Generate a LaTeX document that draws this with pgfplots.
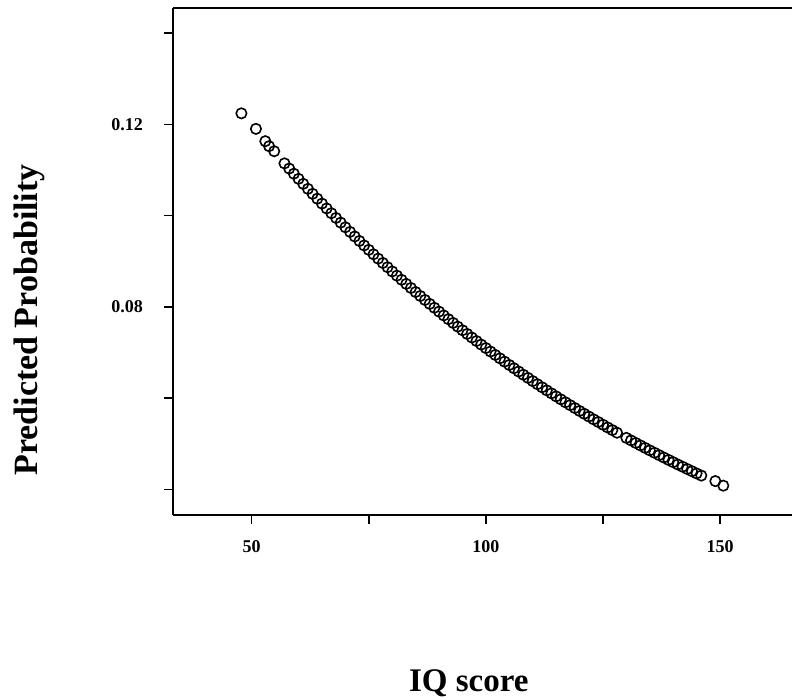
\documentclass[border=0pt]{standalone}
\usepackage{fontspec}
\setmainfont{Liberation Serif}
\usepackage{pgfplots}
\pgfplotsset{compat=1.18}
\usepackage{pgfplotstable}
\pgfplotstableread{
iq p
47.8 0.1224
50.9 0.1190
52.9 0.1163
53.7 0.1152
54.8 0.1141
57 0.11143
58 0.11030
59 0.10917
60 0.10805
61 0.10695
62 0.10585
63 0.10476
64 0.10369
65 0.10262
66 0.10156
67 0.10051
68 0.09948
69 0.09845
70 0.09743
71 0.09642
72 0.09542
73 0.09443
74 0.09345
75 0.09248
76 0.09151
77 0.09056
78 0.08961
79 0.08868
80 0.08775
81 0.08683
82 0.08592
83 0.08502
84 0.08413
85 0.08324
86 0.08237
87 0.08150
88 0.08064
89 0.07979
90 0.07895
91 0.07811
92 0.07729
93 0.07647
94 0.07566
95 0.07486
96 0.07406
97 0.07327
98 0.07250
99 0.07172
100 0.07096
101 0.07020
102 0.06945
103 0.06871
104 0.06798
105 0.06725
106 0.06653
107 0.06582
108 0.06511
109 0.06442
110 0.06372
111 0.06304
112 0.06236
113 0.06169
114 0.06103
115 0.06037
116 0.05972
117 0.05907
118 0.05844
119 0.05781
120 0.05718
121 0.05656
122 0.05595
123 0.05534
124 0.05475
125 0.05415
126 0.05356
127 0.05298
128 0.05241
130 0.05127
131 0.05072
132 0.05016
133 0.04962
134 0.04908
135 0.04854
136 0.04801
137 0.04749
138 0.04697
139 0.04645
140 0.04595
141 0.04544
142 0.04495
143 0.04445
144 0.04397
145 0.04348
146 0.04301
149.0 0.0418
150.7 0.0408
}\datatable
\begin{document}
\begin{tikzpicture}
\useasboundingbox (0,0) rectangle (792bp,700bp);
\begin{axis}[
  at={(173bp,185bp)}, anchor=south west,
  scale only axis, width=619bp, height=507bp,
  xmin=33.19, xmax=165.37, ymin=0.03437, ymax=0.14549,
  axis x line=box, axis y line=left,
  line width=1.5bp,
  axis line style={-, line width=1.5bp, black},
  xtick pos=bottom, ytick pos=left,
  xticklabel pos=bottom,
  tick align=outside,
  major tick length=9bp,
  major tick style={line width=1.5bp, black},
  xtick={50,75,100,125,150},
  xticklabels={50,,100,,150},
  ytick={0.04,0.06,0.08,0.10,0.12,0.14},
  yticklabels={,,0.08,,0.12,},
  ticklabel style={font=\fontsize{18bp}{20bp}\selectfont\bfseries},
  xticklabel style={yshift=-12bp},
  yticklabel style={xshift=-17bp},
  xlabel={IQ score},
  ylabel={Predicted Probability},
  every axis x label/.style={at={(rel axis cs:0.478,-0.349)}, anchor=base, font=\fontsize{33bp}{38bp}\selectfont\bfseries},
  every axis y label/.style={at={(rel axis cs:-0.2197,0.3846)}, anchor=base, rotate=90, font=\fontsize{34bp}{38bp}\selectfont\bfseries},
  clip=false,
]
\addplot[only marks, mark=o, mark size=5.2bp, mark options={line width=1.6bp, black}, black] table[x=iq, y=p] {\datatable};
\end{axis}
\end{tikzpicture}
\end{document}
